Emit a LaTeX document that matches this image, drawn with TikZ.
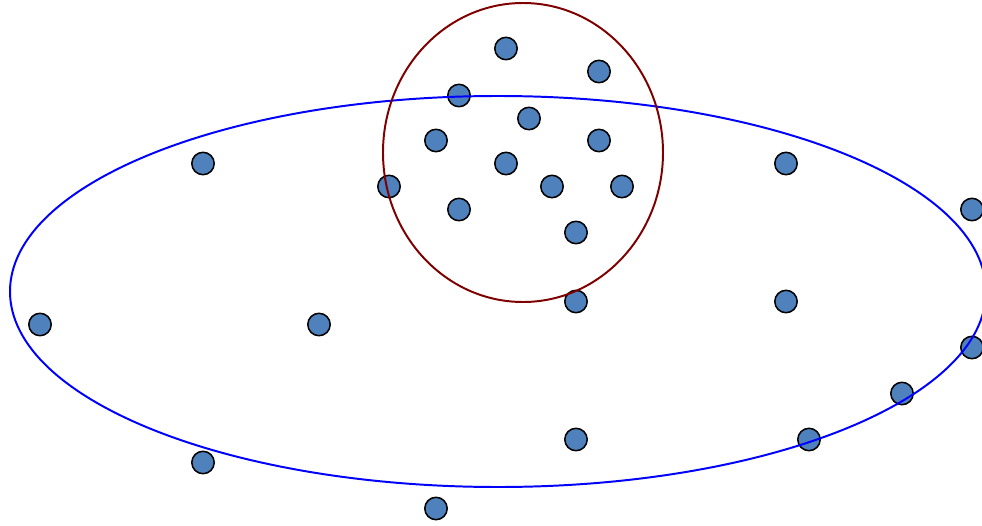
\documentclass[tikz,border=0pt]{standalone}
\definecolor{ptfill}{HTML}{4F81BD}
\definecolor{setred}{HTML}{7F0000}
\tikzset{
  pt/.style={circle, draw=black, fill=ptfill, line width=1.1pt, minimum size=0.56cm, inner sep=0pt},
  setline/.style={line width=1.4pt}
}
\begin{document}
\begin{tikzpicture}[x=0.025cm, y=-0.025cm]
\useasboundingbox (0,0) rectangle (982,526);

% ---------- points ----------
\foreach \x/\y [count=\i] in {506/48.5, 599/71.5, 459/95.5, 529/118.5, 436/140.5, 599/140.5,
    506/163.5, 203/163.5, 786/163.5, 389/186.5, 552/186.5, 622/186.5, 459/209.5, 972/209.5,
    576/232.5, 576/301.5, 786/301.5, 40/324.5, 319/324.5, 972/347.5, 902/393.5, 576/439.5,
    809/439.5, 203/462.5, 436/508.5}
  \node[pt] (p\i) at (\x,\y) {};

% ---------- sets ----------
\draw[setline, blue] (498,291.5) ellipse [x radius=488, y radius=195.5];
\draw[setline, setred] (523,152.5) ellipse [x radius=140, y radius=149.5];

\end{tikzpicture}
\end{document}
